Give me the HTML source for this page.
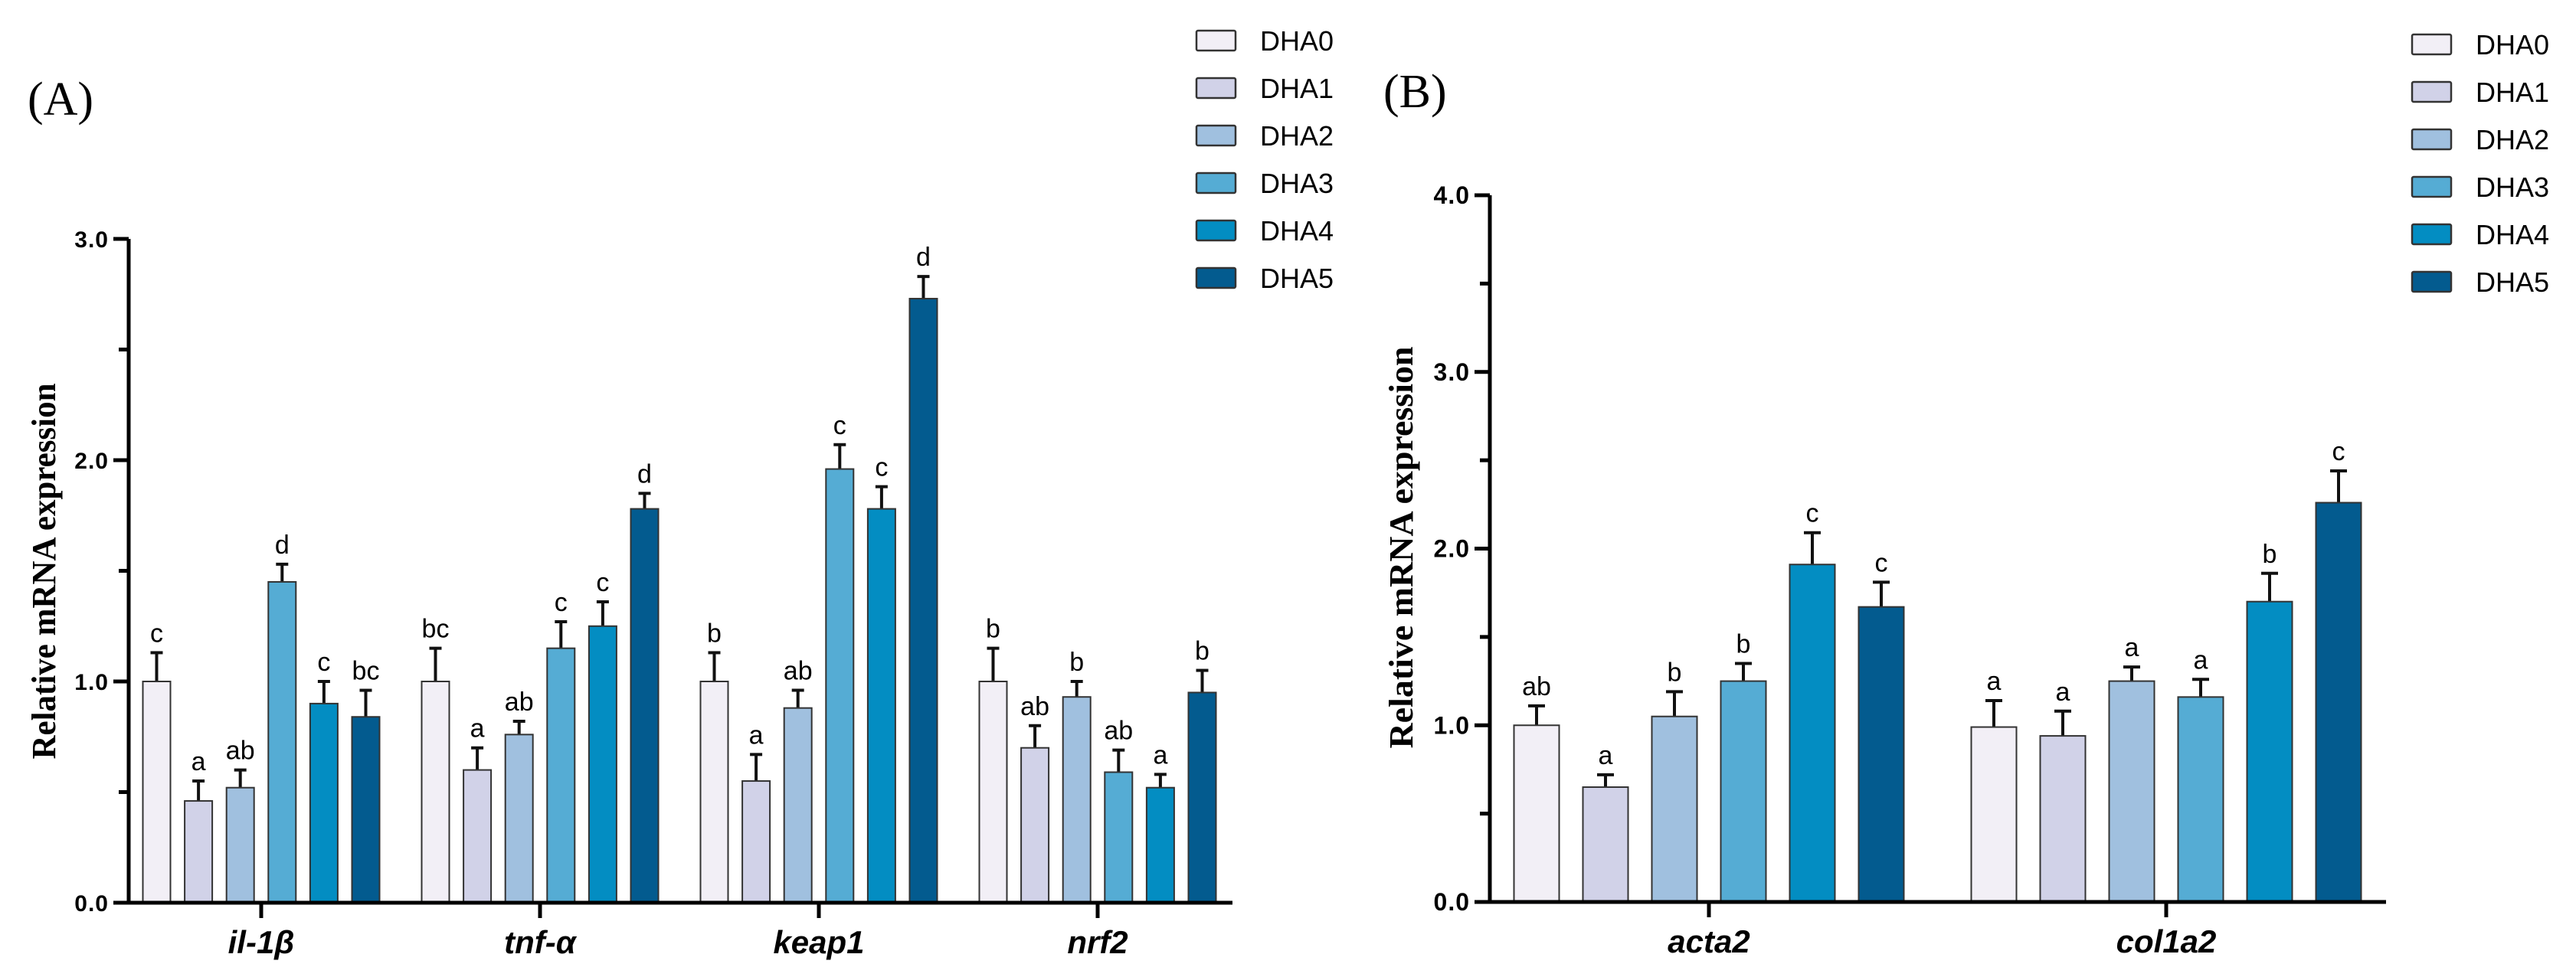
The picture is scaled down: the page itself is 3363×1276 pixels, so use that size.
<!DOCTYPE html>
<html><head><meta charset="utf-8"><style>
html,body{margin:0;padding:0;background:#fff}
svg{display:block}
</style></head><body>
<svg id="chart" width="3363" height="1276" viewBox="0 0 3363 1276" xmlns="http://www.w3.org/2000/svg">
<g id="panelA"></g>
<g id="panelB"></g>
</svg>
<script>
const seriesNames = ["DHA0","DHA1","DHA2","DHA3","DHA4","DHA5"];
const seriesColors = ["#f2eff6","#d1d2e8","#a0c0df","#55acd4","#038dc2","#035b8f"];

const catsA = ["il-1β","tnf-α","keap1","nrf2"];
const meanA = [
 [1.00,0.46,0.52,1.45,0.90,0.84],
 [1.00,0.60,0.76,1.15,1.25,1.78],
 [1.00,0.55,0.88,1.96,1.78,2.73],
 [1.00,0.70,0.93,0.59,0.52,0.95]];
const errA = [
 [0.13,0.09,0.08,0.08,0.10,0.12],
 [0.15,0.10,0.06,0.12,0.11,0.07],
 [0.13,0.12,0.08,0.11,0.10,0.10],
 [0.15,0.10,0.07,0.10,0.06,0.10]];
const letA = [
 ["c","a","ab","d","c","bc"],
 ["bc","a","ab","c","c","d"],
 ["b","a","ab","c","c","d"],
 ["b","ab","b","ab","a","b"]];
const ticksA = ["0.0","1.0","2.0","3.0"];

const catsB = ["acta2","col1a2"];
const meanB = [
 [1.00,0.65,1.05,1.25,1.91,1.67],
 [0.99,0.94,1.25,1.16,1.70,2.26]];
const errB = [
 [0.11,0.07,0.14,0.10,0.18,0.14],
 [0.15,0.14,0.08,0.10,0.16,0.18]];
const letB = [
 ["ab","a","b","b","c","c"],
 ["a","a","a","a","b","c"]];
const ticksB = ["0.0","1.0","2.0","3.0","4.0"];

const NS="http://www.w3.org/2000/svg";
function mk(parent,tag,attrs,text){const e=document.createElementNS(NS,tag);for(const k in attrs)e.setAttribute(k,attrs[k]);if(text!==undefined)e.textContent=text;parent.appendChild(e);return e;}

function drawPanel(g,cfg){
  const y=v=>cfg.y0-(v/cfg.ymax)*(cfg.y0-cfg.ytop);
  // y title
  const t=mk(g,'text',{x:cfg.titleX,y:cfg.titleY,transform:`rotate(-90 ${cfg.titleX} ${cfg.titleY})`,'text-anchor':'middle','font-family':'Liberation Serif, serif','font-weight':'bold','font-size':44,textLength:cfg.titleLen,lengthAdjust:'spacingAndGlyphs'},'Relative mRNA expression');
  
  
  // panel label
  const pl=mk(g,'text',{x:cfg.labelX,y:cfg.labelY,'font-family':'Liberation Serif, serif','font-size':62},cfg.label);
  
  
  // ticks
  cfg.ticks.forEach((lab)=>{
    const v=parseFloat(lab);
    const tk=mk(g,'line',{x1:cfg.ax-20,x2:cfg.ax,y1:y(v),y2:y(v),stroke:'#000','stroke-width':5});
    
    
    const tl=mk(g,'text',{x:cfg.ax-26,y:y(v)+11,'text-anchor':'end','font-family':'Liberation Sans, sans-serif','font-weight':'bold','font-size':cfg.tickFont,'letter-spacing':1},lab);
    
    
    if(v<cfg.ymax){
      const mn=mk(g,'line',{x1:cfg.ax-13,x2:cfg.ax,y1:y(v+0.5),y2:y(v+0.5),stroke:'#000','stroke-width':5});
      
      
    }
  });
  // bars
  cfg.cats.forEach((c,ci)=>{
    const cx=cfg.g0+ci*cfg.gStep;
    cfg.mean[ci].forEach((m,si)=>{
      const bx=cx+(si-2.5)*cfg.bStep;
      const e=cfg.err[ci][si];
      const el=mk(g,'line',{x1:bx,x2:bx,y1:y(m),y2:y(m+e),stroke:'#111','stroke-width':4});
      
      
      const ec=mk(g,'line',{x1:bx-cfg.cap/2,x2:bx+cfg.cap/2,y1:y(m+e),y2:y(m+e),stroke:'#111','stroke-width':4});
      
      
      const r=mk(g,'rect',{x:bx-cfg.bw/2,y:y(m),width:cfg.bw,height:y(0)-y(m),fill:seriesColors[si],stroke:'#333','stroke-width':2});
      
      
      const lt=mk(g,'text',{x:bx,y:y(m+e)-14,'text-anchor':'middle','font-family':'Liberation Sans, sans-serif','font-size':34},cfg.letters[ci][si]);
      
      
    });
    const xt=mk(g,'line',{x1:cx,x2:cx,y1:cfg.y0,y2:cfg.y0+20,stroke:'#000','stroke-width':5});
    
    
    const xl=mk(g,'text',{x:cx,y:cfg.y0+66,'text-anchor':'middle','font-family':'Liberation Sans, sans-serif','font-weight':'bold','font-style':'italic','font-size':42},c);
    
    
  });
  // axes
  const ya=mk(g,'line',{x1:cfg.ax,x2:cfg.ax,y1:cfg.ytop,y2:cfg.y0+2.5,stroke:'#000','stroke-width':5});
  
  
  const xa=mk(g,'line',{x1:cfg.ax-2.5,x2:cfg.axEnd,y1:cfg.y0,y2:cfg.y0,stroke:'#000','stroke-width':5});
  
  
  // legend
  seriesNames.forEach((n,i)=>{
    const ly=cfg.legY+i*62;
    const lr=mk(g,'rect',{x:cfg.legX,y:ly-13,width:51,height:26,fill:seriesColors[i],stroke:'#333','stroke-width':2.5,rx:2});
    
    
    const lt=mk(g,'text',{x:cfg.legX+83,y:ly+13,'font-family':'Liberation Sans, sans-serif','font-size':36},n);
    
    
  });
}

drawPanel(document.getElementById('panelA'),{cats:catsA,mean:meanA,err:errA,letters:letA,ticks:ticksA,
  ymax:3,y0:1179,ytop:312,ax:168,axEnd:1609,g0:341,gStep:364,bStep:54.6,bw:36,cap:16,tickFont:30,
  titleX:72,titleY:746,titleLen:491,label:'(A)',labelX:36,labelY:150,legX:1562,legY:53});
drawPanel(document.getElementById('panelB'),{cats:catsB,mean:meanB,err:errB,letters:letB,ticks:ticksB,
  ymax:4,y0:1178,ytop:255,ax:1945,axEnd:3115,g0:2231,gStep:597,bStep:90,bw:59,cap:22,tickFont:32,
  titleX:1844,titleY:715,titleLen:525,label:'(B)',labelX:1806,labelY:140,legX:3149,legY:58});
</script>
</body></html>
